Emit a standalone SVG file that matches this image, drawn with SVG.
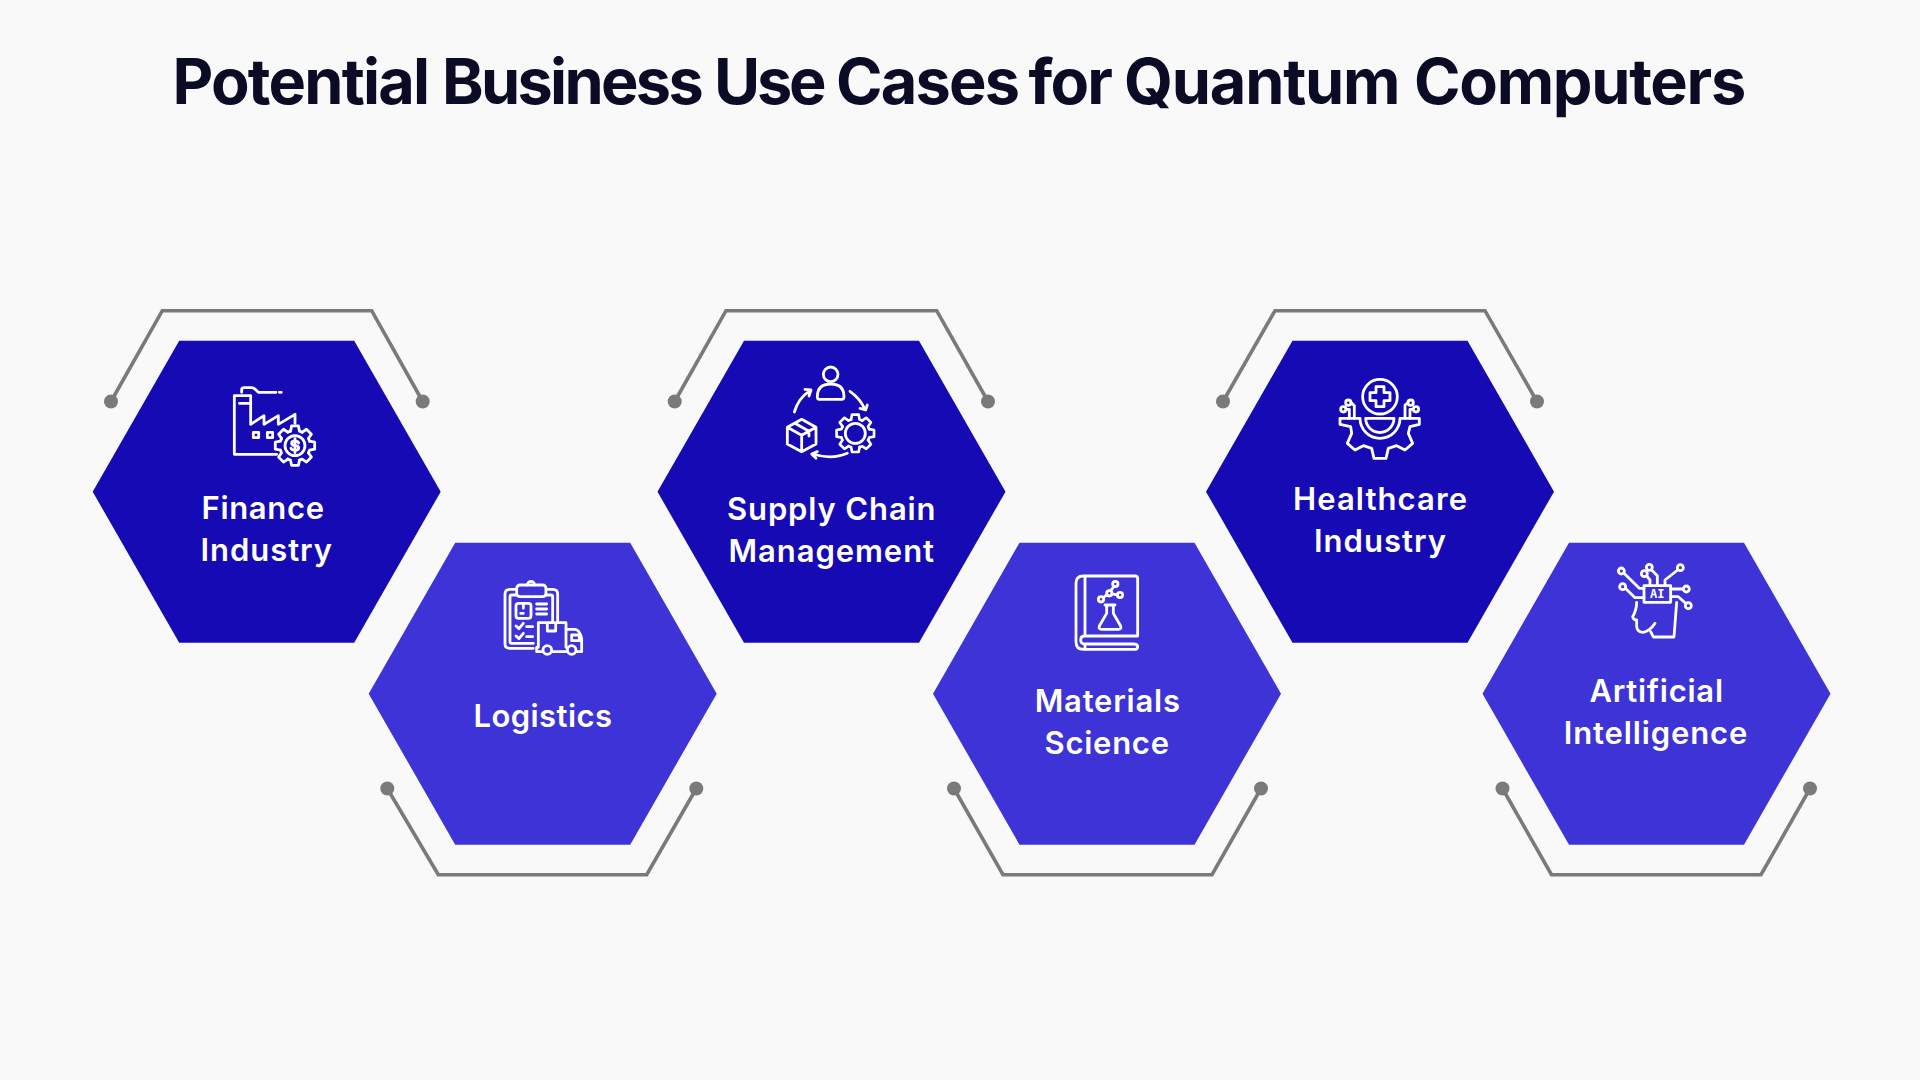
<svg xmlns="http://www.w3.org/2000/svg" xmlns:xlink="http://www.w3.org/1999/xlink" width="1920" height="1080" viewBox="0 0 1920 1080">
<style>
.title{font:700 63px Inter,"Liberation Sans",sans-serif;fill:#0b0b25;letter-spacing:-1.8px}
.lbl{font:600 31px Inter,"Liberation Sans",sans-serif;fill:#fff}
.ai{font:700 12px "DejaVu Sans Mono","Liberation Mono",monospace;fill:#fff}
.dark{fill:#150ab3}
.light{fill:#3d33d6}
.br{fill:none;stroke:#7a7a7a;stroke-width:3.6;marker-start:url(#dot);marker-end:url(#dot)}
.icon *{fill:none;stroke:#fff;stroke-width:2.8;stroke-linecap:round;stroke-linejoin:round;vector-effect:non-scaling-stroke}
#seg{fill:none;stroke:#fff;stroke-width:14;stroke-linejoin:round}
</style>
<defs>
<marker id="dot" viewBox="-8 -8 16 16" markerUnits="userSpaceOnUse" markerWidth="16" markerHeight="16"><circle r="7" fill="#7a7a7a"/></marker>
<path id="hex" d="M-174 0L-87.5-151H87.5L174 0L87.5 151H-87.5Z"/>
<path id="seg" d="M72.7-22.2L98.5-17.4V17.4L72.7 22.2A76 76 0 0 1 67.1 35.7"/>
<g id="gear">
<use xlink:href="#seg"/><use xlink:href="#seg" transform="rotate(45)"/><use xlink:href="#seg" transform="rotate(90)"/><use xlink:href="#seg" transform="rotate(135)"/><use xlink:href="#seg" transform="rotate(180)"/><use xlink:href="#seg" transform="rotate(225)"/><use xlink:href="#seg" transform="rotate(270)"/><use xlink:href="#seg" transform="rotate(315)"/>
</g>
</defs>
<rect width="1920" height="1080" fill="#f9f9f9"/>
<text class="title" y="104"><tspan x="172.500">Potential</tspan> <tspan x="442" letter-spacing="-2.700">Business</tspan> <tspan x="714" letter-spacing="-3.200">Use</tspan> <tspan x="836">Cases</tspan> <tspan x="1028.500">for</tspan> <tspan x="1124" letter-spacing="-1.200">Quantum</tspan> <tspan x="1414" letter-spacing="-1.300">Computers</tspan></text>

<g id="connectors">
<path class="br" d="M111 401.5L162.3 310.7H371.7L422.7 401.5"/>
<path class="br" d="M387.3 788.5L438.3 874.7H646.7L696.3 788.5"/>
<path class="br" d="M674.7 401.5L726 310.7H936.7L988 401.5"/>
<path class="br" d="M954 788.5L1003 874.7H1212L1261 788.5"/>
<path class="br" d="M1223 401.5L1275 310.7H1485L1537 401.5"/>
<path class="br" d="M1502.5 788.5L1551.5 874.7H1761L1810 788.5"/>
</g>

<g id="finance">
<use xlink:href="#hex" class="dark" transform="translate(266.7,491.7)"/>
<g class="icon" transform="translate(220,375) scale(.3333)">
<path d="M92 145V62H43V238H170M58 85H92M92 148L132 122V148L175 122V148L225 118V145"/>
<path d="M65 52V45Q65 38 72 38H95Q102 38 108 45L115 52H168M178 52H184"/>
<rect x="100" y="172" width="16" height="16"/><rect x="142" y="172" width="16" height="16"/>
<use xlink:href="#gear" transform="translate(225,212) scale(.6)"/>
<circle cx="225" cy="212" r="30"/>
<path d="M236 204Q233 198 225 198Q215 198 215 205Q215 212 225 212Q236 212 236 219Q236 226 225 226Q216 226 213 220M225 191V233"/>
</g>
<text class="lbl" x="201.500" y="519" textLength="122.500">Finance</text>
<text class="lbl" x="200.500" y="560.7" textLength="131.500">Industry</text>
</g>

<g id="logistics">
<use xlink:href="#hex" class="light" transform="translate(542.7,693.7)"/>
<g class="icon" transform="translate(490,570) scale(.3333)">
<path d="M130 235H60Q45 235 45 222V72Q45 58 60 58H80M168 58H188Q203 58 203 72V155M80 75H65Q60 75 60 80V215Q60 220 65 220H130M168 75H183Q188 75 188 80V155"/>
<rect x="80" y="45" width="88" height="35" rx="10"/>
<path d="M112 45A11 11 0 0 1 134 45"/>
<rect x="78" y="100" width="45" height="45" rx="8"/>
<path d="M100 100V115M92 130H100M140 102H170M140 117H170M140 132H170M78 168L87 176L100 160M110 170H128M78 198L87 206L100 190M110 200H128"/>
<path d="M145 232V158H228V232M172 158V183H197V158M228 178H255Q268 178 275 205V245H262M245 195H268V212H245ZM140 232V245H158M187 245H231"/>
<circle cx="172" cy="240" r="13"/><circle cx="245" cy="240" r="13"/>
</g>
<text class="lbl" x="473.500" y="726.7" textLength="138.500">Logistics</text>
</g>

<g id="supply-chain">
<use xlink:href="#hex" class="dark" transform="translate(831.5,491.7)"/>
<g class="icon" transform="translate(760,350) scale(.3333)">
<circle cx="212" cy="73" r="22"/>
<path d="M178 148H245Q252 148 252 140Q252 102 212 102Q172 102 172 140Q172 148 178 148Z"/>
<path d="M103 186Q115 145 150 122M135 118L153 120L147 138M270 124Q300 145 315 178M300 175L317 180L322 165M262 310Q215 330 158 312M172 305L155 312L168 325"/>
<path d="M125 208L168 232V282L125 305L82 282V232ZM82 232L125 256L168 232M125 256V305M105 220L147 244V258"/>
<use xlink:href="#gear" transform="translate(286,250) scale(.57)"/>
<circle cx="286" cy="250" r="30"/>
</g>
<text class="lbl" x="727" y="520" textLength="208.500">Supply Chain</text>
<text class="lbl" x="728.500" y="561.500" textLength="205.500">Management</text>
</g>

<g id="materials">
<use xlink:href="#hex" class="light" transform="translate(1107,693.7)"/>
<g class="icon" transform="translate(1050,560) scale(.3333)">
<path d="M263 228V56Q263 48 255 48H100Q78 48 78 70V245Q78 268 100 268H255Q263 268 263 260Q263 252 250 252H105Q92 252 92 240Q92 228 105 228H263M105 48V228M105 252V268"/>
<path d="M165 135H195M170 135V160L148 198Q145 208 155 208H205Q215 208 212 198L190 160V135"/>
<circle cx="196" cy="72" r="8"/><circle cx="178" cy="100" r="8"/><circle cx="210" cy="105" r="8"/><circle cx="153" cy="118" r="8"/>
<path d="M192 80L182 92M186 102L202 105M171 104L160 113"/>
</g>
<text class="lbl" x="1034.700" y="711.500" textLength="145.300">Materials</text>
<text class="lbl" x="1044.500" y="754" textLength="124.500">Science</text>
</g>

<g id="healthcare">
<use xlink:href="#hex" class="dark" transform="translate(1380,491.7)"/>
<g class="icon" transform="translate(1320,365) scale(.3333)">
<circle cx="180" cy="95" r="52"/>
<path d="M168 65H192V83H210V107H192V125H168V107H150V83H168Z"/>
<path d="M60 160V178L92 185L95 205L82 235L105 255L130 242L155 250L162 280H198L205 250L230 242L255 255L278 235L265 205L270 185L298 178V160H240A60 60 0 0 1 120 160Z"/>
<path d="M137 160H222A42 42 0 0 1 137 160Z"/>
<circle cx="85" cy="113" r="8"/><circle cx="70" cy="133" r="8"/><circle cx="272" cy="113" r="8"/><circle cx="288" cy="133" r="8"/>
<path d="M93 113L103 122V160M78 133H88V160M264 113L255 120V160M280 133H270V160"/>
</g>
<text class="lbl" x="1293" y="509.500" textLength="174">Healthcare</text>
<text class="lbl" x="1314" y="552" textLength="132">Industry</text>
</g>

<g id="ai">
<use xlink:href="#hex" class="light" transform="translate(1656.500,693.7)"/>
<g class="icon" transform="translate(1600,555) scale(.3333)">
<rect x="132" y="92" width="80" height="50"/>
<path d="M110 142Q110 165 98 185Q100 195 110 195V215Q112 232 130 232Q150 228 165 205M152 230L160 246H222L230 142"/>
<circle cx="64" cy="48" r="9"/><circle cx="68" cy="95" r="9"/><circle cx="133" cy="56" r="9"/><circle cx="148" cy="37" r="9"/><circle cx="241" cy="38" r="9"/><circle cx="259" cy="102" r="9"/><circle cx="265" cy="152" r="9"/>
<path d="M72 55L118 100H132M76 100L105 128H132M140 63L150 75V92M155 45L172 62V92M233 45L195 75V92M250 102H212M257 145L235 125H212"/>
</g>
<text class="ai" x="1657.300" y="597.800" text-anchor="middle">AI</text>
<text class="lbl" x="1589.400" y="701.600" textLength="133.600">Artificial</text>
<text class="lbl" x="1563.700" y="744" textLength="183.700">Intelligence</text>
</g>
</svg>
